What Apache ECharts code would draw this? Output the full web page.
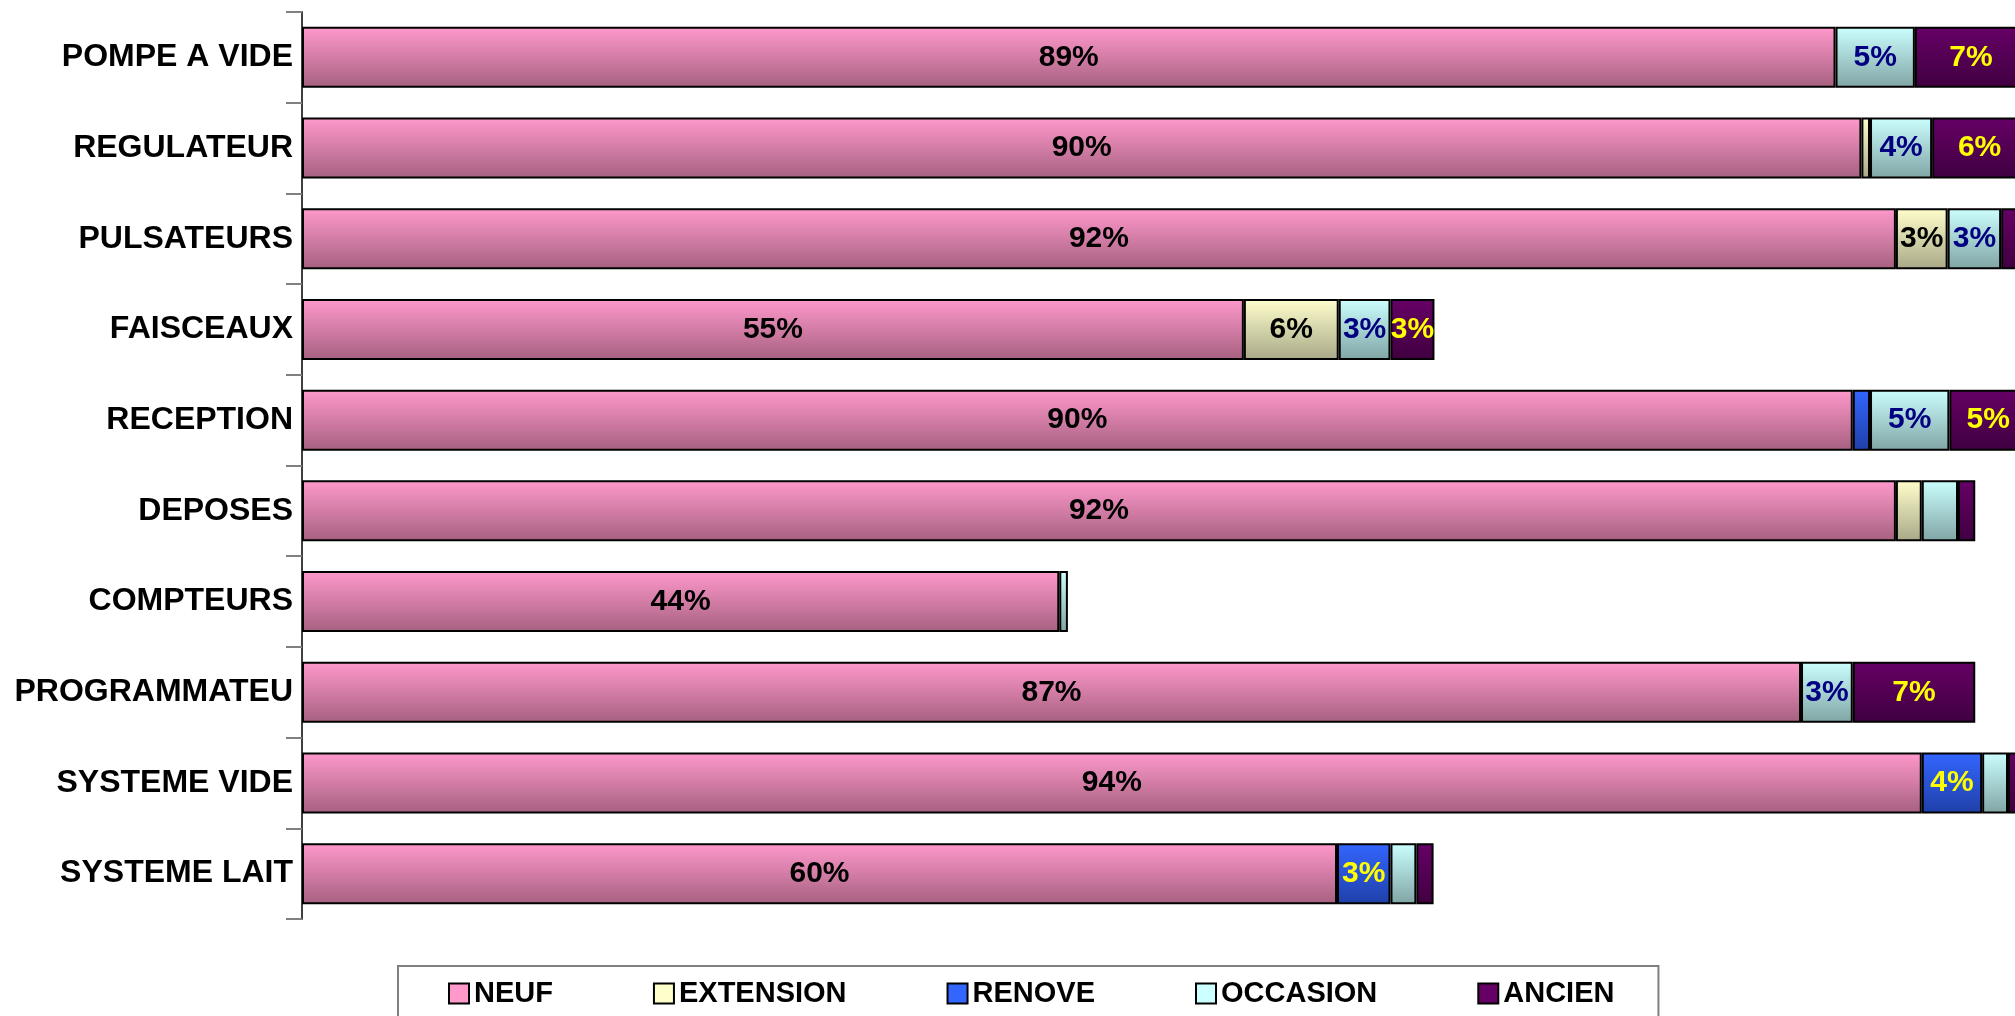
<!DOCTYPE html>
<html>
<head>
<meta charset="utf-8">
<title>Parc</title>
<script src="https://cdn.jsdelivr.net/npm/echarts@6/dist/echarts.min.js"></script>
<style>
  html, body { margin: 0; padding: 0; background: #fff; }
  #main { width: 2015px; height: 1016px; }
</style>
</head>
<body>
<div id="main"></div>
<script>
// categories (top to bottom)
const categories = ['POMPE A VIDE', 'REGULATEUR', 'PULSATEURS', 'FAISCEAUX', 'RECEPTION',
  'DEPOSES', 'COMPTEURS', 'PROGRAMMATEU', 'SYSTEME VIDE', 'SYSTEME LAIT'];

// parts in %
const neuf      = [88.9, 90.4, 92.4, 54.6, 89.9, 92.4, 43.9, 86.9, 93.9, 60.0];
const extension = [0,    0.5,  3.0,  5.5,  0,    1.5,  0,    0,    0,    0];
const renove    = [0,    0,    0,    0,    1.0,  0,    0,    0,    3.5,  3.1];
const occasion  = [4.6,  3.6,  3.1,  3.0,  4.6,  2.1,  0.5,  3.0,  1.5,  1.5];
const ancien    = [6.5,  5.5,  1.5,  2.55, 4.5,  1.0,  0,    7.1,  1.1,  1.0];

const names = ['NEUF', 'EXTENSION', 'RENOVE', 'OCCASION', 'ANCIEN'];
const values = [neuf, extension, renove, occasion, ancien];
// top colour, bottom colour, label colour
const colors = [
  ['#FF99CC', '#A6607F', '#000000'],
  ['#FFFFCC', '#A8A888', '#000000'],
  ['#3366FF', '#2040A8', '#FFFF00'],
  ['#CCFFFF', '#80A4A4', '#000080'],
  ['#660066', '#400040', '#FFFF00']
];

const font = 'Arial, "Liberation Sans", sans-serif';

const chart = echarts.init(document.getElementById('main'), null, { renderer: 'canvas' });

const series = names.map(function (name, i) {
  return {
    name: name,
    type: 'bar',
    stack: 'total',
    barWidth: 61,
    data: values[i].map(function (v) { return v === 0 ? '-' : v; }),
    itemStyle: {
      color: new echarts.graphic.LinearGradient(0, 0, 0, 1, [
        { offset: 0, color: colors[i][0] },
        { offset: 1, color: colors[i][1] }
      ]),
      borderColor: '#000',
      borderWidth: 2
    },
    label: {
      show: true,
      position: 'inside',
      fontFamily: font,
      fontWeight: 'bold',
      fontSize: 30,
      color: colors[i][2],
      formatter: function (p) {
        return p.value >= 2.5 ? Math.round(p.value) + '%' : '';
      }
    },
    emphasis: { disabled: true }
  };
});

const option = {
  animation: false,
  backgroundColor: '#ffffff',
  // plot runs a little past the right edge, like the original
  grid: { left: 302, width: 1725, top: 12, bottom: 97, outerBoundsMode: 'none', containLabel: false },
  legend: {
    data: names.map(function (n, i) {
      return { name: n, itemStyle: { color: colors[i][0], borderColor: '#000', borderWidth: 2 } };
    }),
    left: 398,
    top: 966,
    icon: 'rect',
    itemWidth: 20,
    itemHeight: 20,
    itemGap: 100,
    padding: [13, 44, 21, 50],
    borderColor: '#808080',
    borderWidth: 2,
    textStyle: { fontFamily: font, fontWeight: 'bold', fontSize: 29, color: '#000', lineHeight: 20 }
  },
  xAxis: {
    type: 'value',
    min: 0,
    max: 100,
    show: false
  },
  yAxis: {
    type: 'category',
    inverse: true,
    data: categories,
    axisLine: { show: true, lineStyle: { color: '#404040', width: 2 } },
    axisTick: { show: true, inside: false, length: 16, lineStyle: { color: '#808080', width: 2 } },
    axisLabel: { margin: 9, fontFamily: font, fontWeight: 'bold', fontSize: 32, color: '#000' }
  },
  series: series
};

chart.setOption(option);
</script>
</body>
</html>
